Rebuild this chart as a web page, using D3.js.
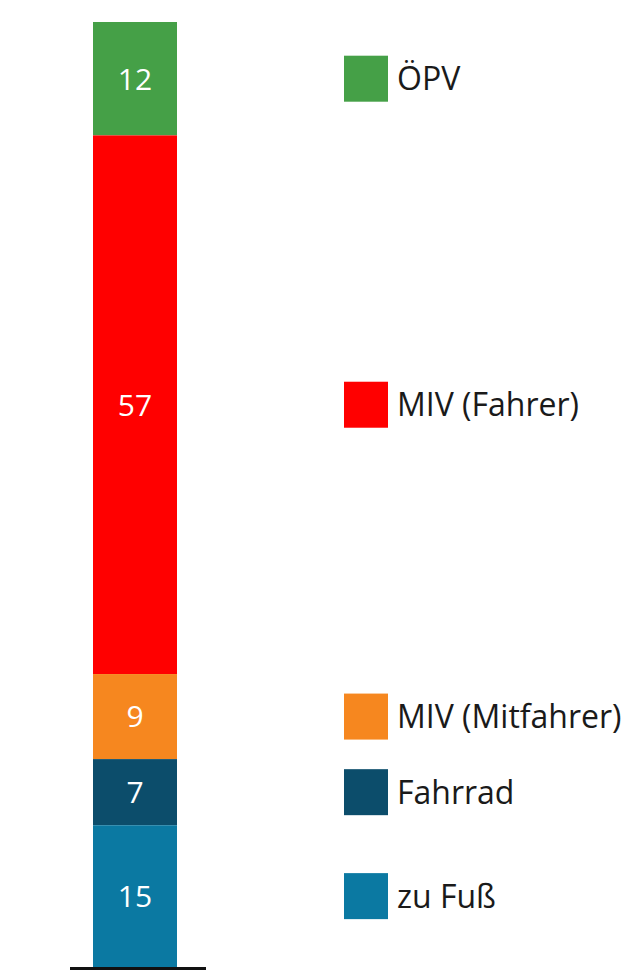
<!DOCTYPE html>
<html>
<head>
<meta charset="utf-8">
<script src="https://cdn.jsdelivr.net/npm/d3@7"></script>
<style>
  body { margin: 0; background: #fff; }
  text { font-family: "Open Sans", sans-serif; }
</style>
</head>
<body>
<svg width="642" height="971"></svg>
<script>
// modal split, top to bottom
var categories = ['ÖPV', 'MIV (Fahrer)', 'MIV (Mitfahrer)', 'Fahrrad', 'zu Fuß']
var values = [12, 57, 9, 7, 15]
var colors = ['#45a047', '#ff0000', '#f6871f', '#0c4d6b', '#0b79a2']

var svg = d3.select('svg'),
  margin = {top: 22, bottom: 4},
  height = +svg.attr('height') - margin.top - margin.bottom

var total = d3.sum(values)
var y = d3.scaleLinear().domain([0, total]).range([margin.top, margin.top + height])

// cumulative starts
var segs = []
var acc = 0
values.forEach(function(v, i) {
  segs.push({name: categories[i], value: v, start: acc, end: acc + v, color: colors[i]})
  acc += v
})

var barX = 93, barW = 84

var g = svg.append('g')

g.selectAll('rect.seg')
  .data(segs)
  .enter()
  .append('rect')
  .attr('class', 'seg')
  .attr('x', barX)
  .attr('width', barW)
  .attr('y', function(d) { return y(d.start) })
  .attr('height', function(d) { return y(d.end) - y(d.start) })
  .attr('fill', function(d) { return d.color })

g.selectAll('text.val')
  .data(segs)
  .enter()
  .append('text')
  .attr('class', 'val')
  .attr('x', barX + barW / 2)
  .attr('y', function(d) { return (y(d.start) + y(d.end)) / 2 })
  .attr('dy', '0.36em')
  .attr('text-anchor', 'middle')
  .attr('fill', '#fff')
  .style('font-size', '30px')
  .text(function(d) { return d.value })

// baseline
svg.append('line')
  .attr('x1', 70)
  .attr('x2', 206)
  .attr('y1', y(total) + 1.5)
  .attr('y2', y(total) + 1.5)
  .attr('stroke', '#111')
  .attr('stroke-width', 3)

// legend next to each segment
var legend = svg.selectAll('g.legend')
  .data(segs)
  .enter()
  .append('g')
  .attr('class', 'legend')
  .attr('transform', function(d) {
    return 'translate(344,' + (y(d.start) + y(d.end)) / 2 + ')'
  })

legend.append('rect')
  .attr('x', 0)
  .attr('y', -23)
  .attr('width', 44)
  .attr('height', 46)
  .attr('fill', function(d) { return d.color })

legend.append('text')
  .attr('x', 53)
  .attr('dy', '0.36em')
  .attr('fill', '#1a1a1a')
  .style('font-size', '32px')
  .text(function(d) { return d.name })
</script>
</body>
</html>
